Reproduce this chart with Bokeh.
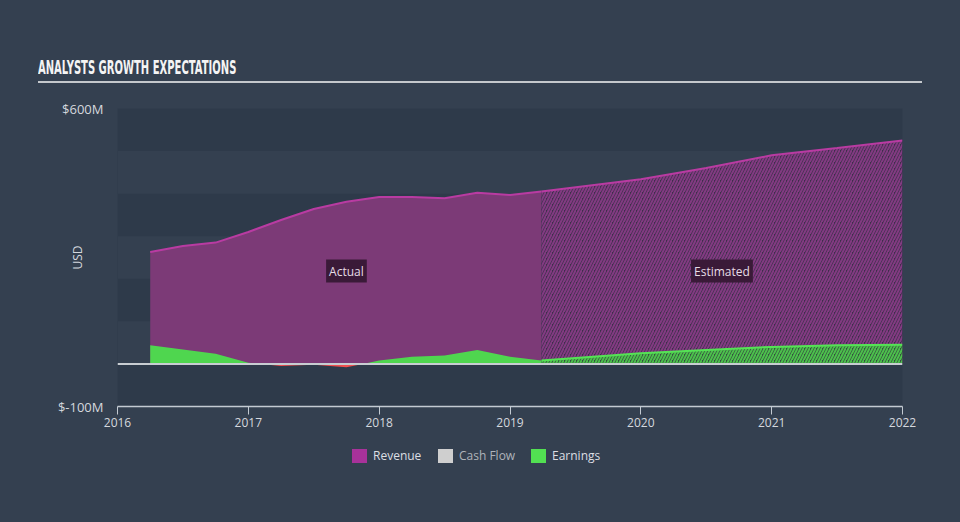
from bokeh.plotting import figure
from bokeh.models import Range1d, FixedTicker, Span, Label, Div
from bokeh.embed import file_html
from bokeh.resources import INLINE

# ---------------- data ----------------
actual_years = [2016.25, 2016.5, 2016.75, 2017.0, 2017.25, 2017.5, 2017.75,
                2018.0, 2018.25, 2018.5, 2018.75, 2019.0, 2019.24]
actual_revenue = [263, 277, 285, 310, 338, 364, 381, 392, 392, 389, 402, 397, 405]
actual_earnings = [44, 34, 24, 3, -5, -2, -8, 8, 17, 20, 33, 17, 8]

est_years = [2019.24, 2020.0, 2020.5, 2021.0, 2021.5, 2022.0]
est_revenue = [405, 434, 460, 490, 507, 525]
est_earnings = [8, 25, 33, 40, 44, 45]

x_ticks = [2016, 2017, 2018, 2019, 2020, 2021, 2022]
y_ticks = [-100, 600]
y_tick_labels = {600: "$600M", -100: "$-100M"}
band_ticks = [-100, 0, 100, 200, 300, 400, 500, 600]

series_names = ["Revenue", "Cash Flow", "Earnings"]
title_text = "ANALYSTS GROWTH EXPECTATIONS"

# ---------------- style ----------------
PAGE_BG = "#344050"
BAND_DARK = "#2e3a4a"
REV_FILL = "#7c3a77"
REV_LINE = "#b93ba2"
REV_LEGEND = "#a8329a"
EARN_GREEN = "#4fd64f"
EARN_LINE = "#55e355"
EARN_RED = "#f04f4f"
CASH_LEGEND = "#cfcfcf"
TEXT = "#d4d8de"
FONT = "Open Sans"
legend_colors = [REV_LEGEND, CASH_LEGEND, "#52e052"]
legend_text_colors = ["#dcdfe3", "#aeb3ba", "#dcdfe3"]
legend_widths = [86, 93, 100]


def split_sign(xs, ys):
    px, py, nx, ny = [], [], [], []
    for i in range(len(xs)):
        if i > 0 and (ys[i - 1] < 0) != (ys[i] < 0):
            t = ys[i - 1] / (ys[i - 1] - ys[i])
            xc = xs[i - 1] + t * (xs[i] - xs[i - 1])
            px.append(xc); py.append(0); nx.append(xc); ny.append(0)
        px.append(xs[i]); py.append(max(ys[i], 0))
        nx.append(xs[i]); ny.append(min(ys[i], 0))
    return px, py, nx, ny


# ---------------- title block (separate root) ----------------
title_html = (
    '<div style="padding:57px 0 0 38px;">'
    '<div style="width:884px;border-bottom:2px solid #c4c8cc;padding-bottom:3px;'
    'font-family:\'DejaVu Sans\',sans-serif;font-weight:bold;font-size:20px;'
    'line-height:21px;color:#f4f4f4;white-space:nowrap;">'
    '<span style="display:inline-block;transform:scaleX(0.5);'
    'transform-origin:0 50%;">' + title_text + '</span></div></div>'
)
head = Div(text=title_html, width=960, height=90, margin=0,
           styles={"background-color": PAGE_BG})

# ---------------- chart ----------------
p = figure(width=960, height=350, x_range=Range1d(2016, 2022),
           y_range=Range1d(-100, 600), output_backend="svg",
           toolbar_location=None, min_border_left=117, min_border_right=58,
           min_border_top=18, min_border_bottom=34,
           styles={"background-color": PAGE_BG})
p.background_fill_color = BAND_DARK
p.border_fill_color = PAGE_BG
p.outline_line_color = None

# grid bands
p.xgrid.visible = False
p.ygrid.ticker = FixedTicker(ticks=band_ticks)
p.ygrid.grid_line_color = None
p.ygrid.band_fill_color = PAGE_BG
p.ygrid.band_fill_alpha = 1.0

# axes
p.xaxis.ticker = FixedTicker(ticks=x_ticks)
p.xaxis.axis_line_color = "#c3cad2"
p.xaxis.axis_line_width = 1.5
p.xaxis.major_tick_line_color = "#c3cad2"
p.xaxis.major_tick_in = 0
p.xaxis.major_tick_out = 8
p.xaxis.minor_tick_line_color = None
p.xaxis.major_label_text_color = TEXT
p.xaxis.major_label_text_font = FONT
p.xaxis.major_label_text_font_size = "12px"
p.xaxis.major_label_standoff = 3

p.yaxis.ticker = FixedTicker(ticks=y_ticks)
p.yaxis.major_label_overrides = y_tick_labels
p.yaxis.axis_line_color = None
p.yaxis.major_tick_line_color = None
p.yaxis.minor_tick_line_color = None
p.yaxis.major_label_text_color = TEXT
p.yaxis.major_label_text_font = FONT
p.yaxis.major_label_text_font_size = "13px"
p.yaxis.major_label_standoff = 8
p.yaxis.axis_label = "USD"
p.yaxis.axis_label_standoff = -31
p.yaxis.axis_label_text_font = FONT
p.yaxis.axis_label_text_font_size = "12px"
p.yaxis.axis_label_text_font_style = "normal"
p.yaxis.axis_label_text_color = TEXT

# revenue
p.varea(x=actual_years, y1=0, y2=actual_revenue, fill_color=REV_FILL)
p.varea(x=est_years, y1=0, y2=est_revenue, fill_color="#3e2f4b",
        hatch_pattern="right_diagonal_line", hatch_color="#833a82",
        hatch_scale=6, hatch_weight=2)
p.line(actual_years, actual_revenue, line_color=REV_LINE, line_width=2)
p.line(est_years, est_revenue, line_color=REV_LINE, line_width=2)

# earnings
px, py, nx, ny = split_sign(actual_years, actual_earnings)
p.varea(x=px, y1=0, y2=py, fill_color=EARN_GREEN)
p.varea(x=nx, y1=0, y2=ny, fill_color=EARN_RED)
p.varea(x=est_years, y1=0, y2=est_earnings, fill_color="#33503f",
        hatch_pattern="right_diagonal_line", hatch_color="#4cc04c",
        hatch_scale=6, hatch_weight=2)
p.line(est_years, est_earnings, line_color=EARN_LINE, line_width=2)

p.add_layout(Span(location=0, dimension="width", line_color="#c8cdd2",
                  line_width=2))

# Actual / Estimated tags
for tx, txt in [(2017.75, "Actual"), (2020.62, "Estimated")]:
    p.add_layout(Label(x=tx, y=218, text=txt, text_align="center",
                       text_baseline="middle", text_color="#e6dde6",
                       text_font=FONT, text_font_size="12px",
                       background_fill_color="#3a1a38", padding=3))

# ---------------- legend block (separate root) ----------------
items = ""
for name, col, tcol, w in zip(series_names, legend_colors,
                              legend_text_colors, legend_widths):
    items += (
        '<div style="display:inline-flex;align-items:center;width:%dpx;">'
        '<span style="display:inline-block;width:15px;height:14px;'
        'background:%s;margin-right:6px;"></span>'
        '<span style="color:%s;">%s</span></div>' % (w, col, tcol, name)
    )
legend_html = (
    '<div style="padding:8px 0 0 352px;white-space:nowrap;'
    'font-family:\'Open Sans\',sans-serif;font-size:12px;line-height:16px;">'
    + items + '</div>'
)
foot = Div(text=legend_html, width=960, height=82, margin=0,
           styles={"background-color": PAGE_BG})

html = file_html([head, p, foot], INLINE)
html = html.replace(
    "</head>",
    "<style>html,body{margin:0;padding:0;background:%s;}</style></head>" % PAGE_BG,
    1)
open("out.html", "w").write(html)
